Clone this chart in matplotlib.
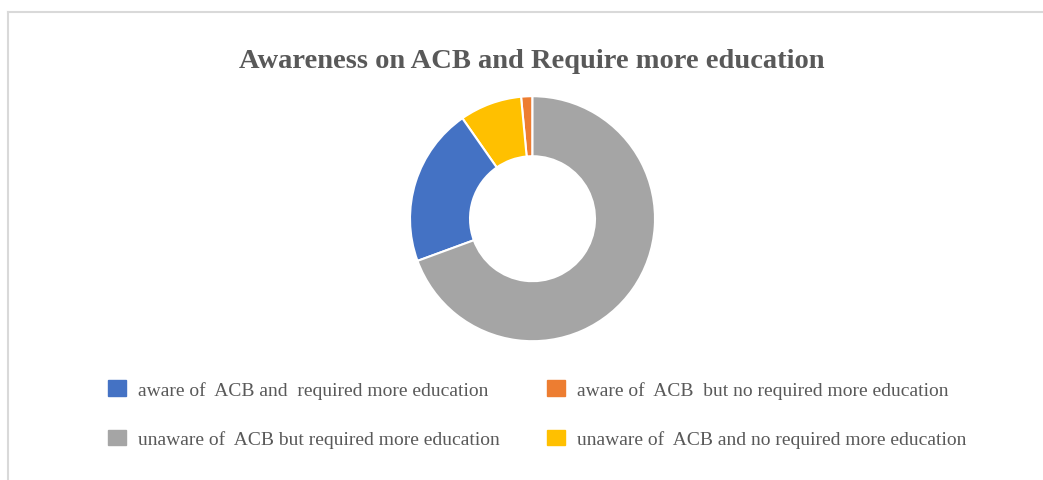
import matplotlib
matplotlib.use("Agg")
import matplotlib.pyplot as plt
from matplotlib.patches import Patch
from matplotlib.lines import Line2D

# Survey responses (counts)
categories = [
    "aware of  ACB and  required more education",
    "aware of  ACB  but no required more education",
    "unaware of  ACB but required more education",
    "unaware of  ACB and no required more education",
]
counts = [28, 2, 93, 11]
colors = ["#4472C4", "#ED7D31", "#A5A5A5", "#FFC000"]
title = "Awareness on ACB and Require more education"

# order in which the ring is laid out counter-clockwise from 12 o'clock
ring_order = [1, 3, 0, 2]
# legend fills column by column; this gives rows: first two, last two
legend_order = [0, 2, 1, 3]

W, H = 1043, 481
fig = plt.figure(figsize=(W / 100, H / 100), dpi=100)
fig.patch.set_facecolor("white")

# light frame on the top and left sides
fig.add_artist(Line2D([8 / W, 8 / W], [0, 1 - 12.5 / H], transform=fig.transFigure,
                      color="#D9D9D9", lw=1.5))
fig.add_artist(Line2D([8 / W, 1], [1 - 12.5 / H, 1 - 12.5 / H], transform=fig.transFigure,
                      color="#D9D9D9", lw=1.5))

cx, cy, r = 532.5, 219.7, 122.5
ax = fig.add_axes([(cx - r) / W, (H - cy - r) / H, 2 * r / W, 2 * r / H])
ax.pie([counts[i] for i in ring_order],
       colors=[colors[i] for i in ring_order],
       startangle=90, counterclock=True, radius=1.0,
       wedgeprops=dict(width=0.49, edgecolor="white", linewidth=1.5))
ax.set_xlim(-1, 1)
ax.set_ylim(-1, 1)
ax.set_aspect("equal")
ax.axis("off")

fig.text(532 / W, 1 - 61.5 / H, title, ha="center", va="center",
         fontsize=20.5, fontweight="bold", family="Liberation Serif", color="#595959")

handles = [Patch(facecolor=colors[i], edgecolor=colors[i]) for i in legend_order]
labels = [categories[i] for i in legend_order]
leg = fig.legend(handles, labels, ncol=2, loc="upper left",
                 bbox_to_anchor=(108 / W, 1 - 381 / H), frameon=False,
                 prop={"family": "Liberation Serif", "size": 14},
                 borderpad=0, borderaxespad=0,
                 handlelength=0.9, handleheight=0.86, handletextpad=0.62,
                 columnspacing=2.47, labelspacing=1.6, labelcolor="#595959")

fig.savefig("out.png", dpi=100, facecolor="white")
